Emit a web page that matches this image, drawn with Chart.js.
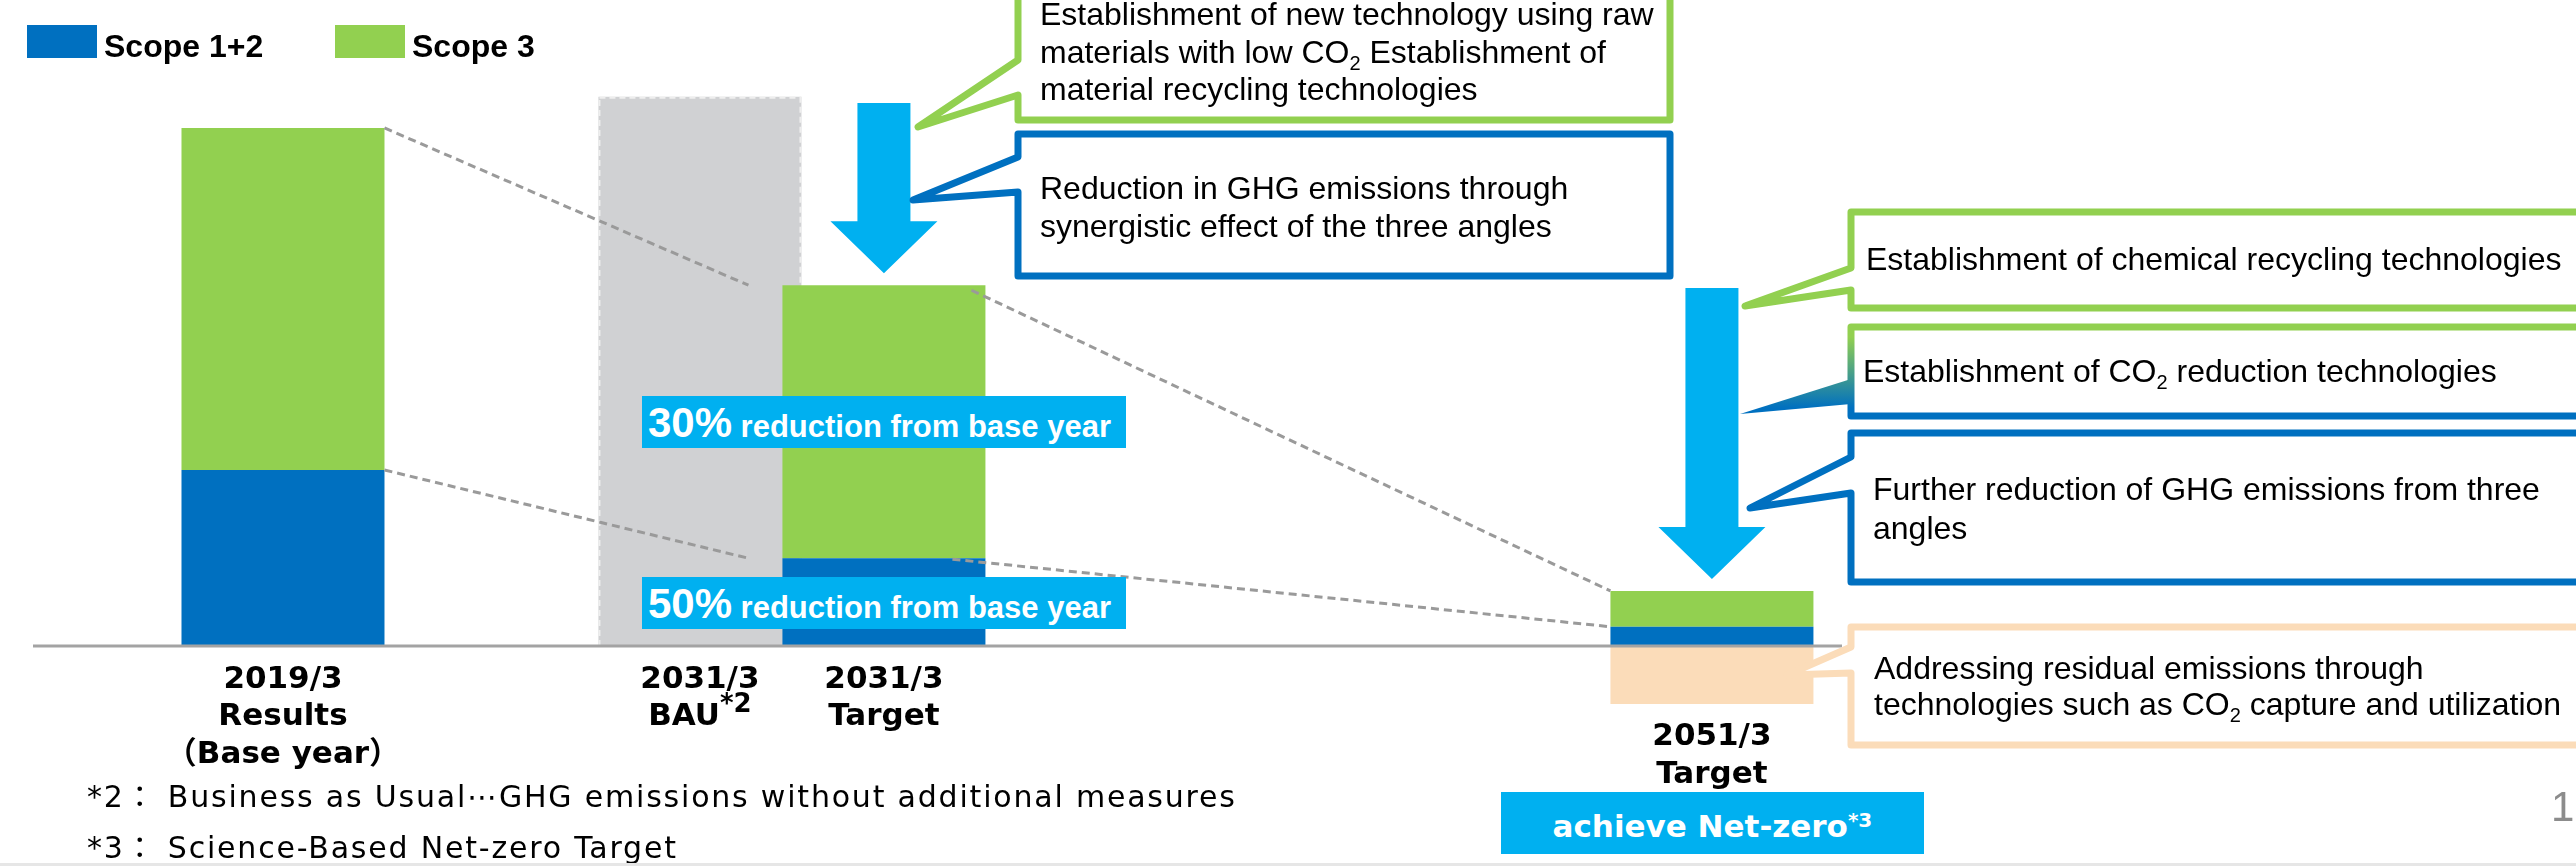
<!DOCTYPE html>
<html lang="en">
<head>
<meta charset="UTF-8">
<title>GHG emissions reduction roadmap</title>
<script src="https://cdn.jsdelivr.net/npm/chart.js"></script>
<style>
  body { margin: 0; background: #fff; }
  #wrap { position: relative; width: 2576px; height: 866px; overflow: hidden; background: #fff; }
  #chart { position: absolute; left: 0; top: 0; }
  .t { position: absolute; white-space: nowrap; color: #000; }
  .note { font-family: "Liberation Sans", Arial, sans-serif; font-size: 32px; line-height: 37.5px; }
  .note sub { font-size: 20px; line-height: 0; vertical-align: -7px; }
  .cat { font-family: "DejaVu Sans", "Noto Sans CJK JP", sans-serif; font-weight: bold; font-size: 31px;
         line-height: 37.5px; text-align: center; width: 340px; }
  .cat sup { font-size: 26px; line-height: 0; vertical-align: 13px; }
  .cjk { font-family: "Noto Sans CJK JP", sans-serif; }
  .foot { font-family: "DejaVu Sans", "Noto Sans CJK JP", sans-serif; font-size: 30px; line-height: 49px; letter-spacing: 1.8px; }
  .tag { position: absolute; background: #00B0F0; color: #fff; white-space: nowrap; box-sizing: border-box;
         font-family: "Liberation Sans", Arial, sans-serif; font-weight: bold; font-size: 31px; }
  .tag b { font-size: 42px; line-height: 0; }
  .legend-item { position: absolute; top: 25px; height: 33px; }
  .legend-item i { position: absolute; left: 0; top: 0; width: 70px; height: 33px; }
  .legend-item span { position: absolute; left: 77px; top: 3px; white-space: nowrap; line-height: 37px;
                      font-family: "Liberation Sans", Arial, sans-serif; font-weight: bold; font-size: 32px; }
</style>
</head>
<body>
<div id="wrap">
  <canvas id="chart" width="2576" height="866"></canvas>

  <div class="t note" style="left:1040px;top:-4px">Establishment of new technology using raw<br>materials with low CO<sub>2</sub> Establishment of<br>material recycling technologies</div>
  <div class="t note" style="left:1040px;top:170px">Reduction in GHG emissions through<br>synergistic effect of the three angles</div>
  <div class="t note" style="left:1866px;top:241px">Establishment of chemical recycling technologies</div>
  <div class="t note" style="left:1863px;top:353px">Establishment of CO<sub>2</sub> reduction technologies</div>
  <div class="t note" style="left:1873px;top:470px;line-height:39px">Further reduction of GHG emissions from three<br>angles</div>
  <div class="t note" style="left:1874px;top:650px;line-height:36px">Addressing residual emissions through<br>technologies such as CO<sub>2</sub> capture and utilization</div>

  <div class="t foot" style="left:87px;top:770px">*2<span class="cjk">：</span> Business as Usual⋯GHG emissions without additional measures<br>*3<span class="cjk">：</span> Science-Based Net-zero Target</div>

  <div class="t" style="left:2551px;top:786px;font-family:'Liberation Sans',Arial,sans-serif;font-size:42px;line-height:42px;color:#8c8c8c">1</div>
  <div style="position:absolute;left:0;top:863px;width:2576px;height:3px;background:#e6e6e6"></div>
</div>

<script>
  // categories on the x axis
  const categories = ['2019/3 Results (Base year)', '2031/3 BAU', '2031/3 Target', '2051/3 Target'];
  // tick label lines under each bar
  const tickLines = [['2019/3', 'Results', '（Base year）'], ['2031/3', 'BAU'], ['2031/3', 'Target'], ['2051/3', 'Target']];
  const tickNotes = [null, '*2', null, null];
  // where each category sits on the hidden linear x axis (in bar slots)
  const catPos = [1, 3.266, 4.266, 8.766];

  // GHG emissions index, base year total = 100
  const scope12 = [34.1, null, 17.1, 3.9];
  const scope3 = [65.9, null, 52.6, 6.9];
  const bau = [null, 106.0, null, null];
  const residual = [null, null, null, -11.0];

  const BLUE = '#0070C0', GREEN = '#92D050', GRAY = '#D0D1D3', PEACH = '#FBDCB9', CYAN = '#00B0F0';
  const BAR_W = 203;

  const points = vals => vals.map((v, i) => ({ x: catPos[i], y: v })).filter(p => p.y !== null);
  const total = i => (scope12[i] || 0) + (scope3[i] || 0);

  // speech-bubble boxes (decoration)
  const callouts = [
    { left: 1018, top: -40, right: 1670, bottom: 120, j1: 60, j2: 95, tip: [918, 127], color: GREEN },
    { left: 1018, top: 134, right: 1670, bottom: 276, j1: 157, j2: 192, tip: [913, 200], color: BLUE },
    { left: 1851, top: 212, right: 2650, bottom: 308, j1: 268, j2: 290, tip: [1745, 306], color: GREEN },
    { left: 1851, top: 327, right: 2650, bottom: 416, j1: 379, j2: 404, tip: [1740, 414], color: 'grad', solidTip: true },
    { left: 1851, top: 433, right: 2650, bottom: 582, j1: 457, j2: 493, tip: [1750, 508], color: BLUE },
    { left: 1851, top: 627, right: 2650, bottom: 745, j1: 647, j2: 673, tip: [1787, 675], color: PEACH }
  ];
  const arrows = [{ cat: 2, top: 103 }, { cat: 3, top: 288 }];

  const overlay = {
    id: 'overlay',
    afterDatasetDraw(chart, args) {
      // dashed outline on the BAU bar
      if (args.index !== 3) return;
      const el = args.meta.data[0];
      const ctx = chart.ctx;
      ctx.save();
      ctx.setLineDash([6, 4]);
      ctx.strokeStyle = '#eeeeee';
      ctx.lineWidth = 2;
      ctx.strokeRect(el.x - el.width / 2 + 1, el.y + 1, el.width - 2, el.base - el.y - 2);
      ctx.restore();
    },
    afterDatasetsDraw(chart) {
      const ctx = chart.ctx;
      const xs = chart.scales.x, ys = chart.scales.y;
      const px = i => xs.getPixelForValue(catPos[i]);
      const py = v => ys.getPixelForValue(v);
      const h = BAR_W / 2;
      ctx.save();

      // base line
      ctx.strokeStyle = '#a3a3a3';
      ctx.lineWidth = 3;
      ctx.beginPath();
      ctx.moveTo(33, py(0) - 1);
      ctx.lineTo(1842, py(0) - 1);
      ctx.stroke();

      // dashed connectors between bars
      ctx.strokeStyle = '#9a9a9a';
      ctx.setLineDash([8, 5]);
      const seg = (x1, y1, x2, y2) => { ctx.beginPath(); ctx.moveTo(x1, y1); ctx.lineTo(x2, y2); ctx.stroke(); };
      seg(px(0) + h, py(total(0)), px(2) - h - 34, py(total(2)));
      seg(px(0) + h, py(scope12[0]), px(2) - h - 34, py(scope12[2]));
      seg(px(2) + h - 14, py(total(2)) + 5, px(3) - h, py(total(3)));
      seg(px(2) + h - 33, py(scope12[2]) + 1, px(3) - h, py(scope12[3]));
      ctx.setLineDash([]);

      // down arrows
      ctx.fillStyle = CYAN;
      arrows.forEach(a => {
        const cx = px(a.cat), tip = py(total(a.cat)) - 12, head = tip - 52;
        ctx.beginPath();
        ctx.moveTo(cx - 26.5, a.top);
        ctx.lineTo(cx + 26.5, a.top);
        ctx.lineTo(cx + 26.5, head);
        ctx.lineTo(cx + 53.5, head);
        ctx.lineTo(cx, tip);
        ctx.lineTo(cx - 53.5, head);
        ctx.lineTo(cx - 26.5, head);
        ctx.closePath();
        ctx.fill();
      });

      // callout boxes
      callouts.forEach(c => {
        let stroke = c.color;
        if (c.color === 'grad') {
          stroke = ctx.createLinearGradient(0, c.top + 10, 0, c.bottom - 8);
          stroke.addColorStop(0, GREEN);
          stroke.addColorStop(1, BLUE);
        }
        ctx.beginPath();
        ctx.moveTo(c.left, c.top);
        ctx.lineTo(c.right, c.top);
        ctx.lineTo(c.right, c.bottom);
        ctx.lineTo(c.left, c.bottom);
        if (!c.solidTip) {
          ctx.lineTo(c.left, c.j2);
          ctx.lineTo(c.tip[0], c.tip[1]);
          ctx.lineTo(c.left, c.j1);
        }
        ctx.closePath();
        ctx.fillStyle = '#fff';
        ctx.fill();
        ctx.lineWidth = 7;
        ctx.lineJoin = 'round';
        ctx.strokeStyle = stroke;
        ctx.stroke();
        if (c.solidTip) {
          ctx.beginPath();
          ctx.moveTo(c.left, c.j1);
          ctx.lineTo(c.tip[0], c.tip[1]);
          ctx.lineTo(c.left, c.j2);
          ctx.closePath();
          ctx.fillStyle = stroke;
          ctx.fill();
        }
      });
      ctx.restore();
    }
  };

  const chart = new Chart(document.getElementById('chart'), {
    type: 'bar',
    data: {
      datasets: [
        { label: 'Scope 1+2', data: points(scope12), backgroundColor: BLUE },
        { label: 'Scope 3', data: points(scope3), backgroundColor: GREEN },
        { label: 'Residual emissions', data: points(residual), backgroundColor: PEACH },
        { label: 'BAU', data: points(bau), backgroundColor: GRAY }
      ]
    },
    options: {
      responsive: false,
      animation: false,
      events: [],
      layout: { padding: 0 },
      datasets: { bar: { barThickness: BAR_W, borderWidth: 0, inflateAmount: 0 } },
      plugins: { legend: { display: false }, tooltip: { enabled: false } },
      scales: {
        x: { type: 'linear', min: -0.538, max: 13.462, offset: false, stacked: true, display: false },
        y: { min: -42.2, max: 124.66, stacked: true, display: false }
      }
    },
    plugins: [overlay]
  });

  // legend, tick labels and tags placed from the chart's own scales
  const wrap = document.getElementById('wrap');
  const xs = chart.scales.x, ys = chart.scales.y;
  const add = (cls, html, css) => {
    const d = document.createElement('div');
    d.className = cls;
    d.innerHTML = html;
    Object.assign(d.style, css);
    wrap.appendChild(d);
    return d;
  };

  [0, 1].forEach((k, n) => {
    const ds = chart.data.datasets[k];
    add('legend-item', `<i style="background:${ds.backgroundColor}"></i><span>${ds.label}</span>`, { left: [27, 335][n] + 'px' });
  });

  categories.forEach((c, i) => {
    const low = residual[i] !== null ? ys.getPixelForValue(residual[i]) : ys.getPixelForValue(0);
    const lines = tickLines[i].slice();
    if (tickNotes[i]) lines[lines.length - 1] += `<sup>${tickNotes[i]}</sup>`;
    add('t cat', lines.join('<br>'), {
      left: (xs.getPixelForValue(catPos[i]) - 170) + 'px',
      top: (low + 12) + 'px'
    });
  });

  // reduction tags on the 2031/3 target bar
  const tx = xs.getPixelForValue(catPos[2]);
  const tags = [
    { pct: '30%', mid: (total(2) + scope12[2]) / 2 },
    { pct: '50%', mid: scope12[2] / 2 }
  ];
  tags.forEach(t => {
    const cy = ys.getPixelForValue(t.mid);
    add('tag', `<b>${t.pct}</b> reduction from base year`, {
      left: (tx - 242) + 'px', top: (cy - 26) + 'px', width: '484px', height: '52px',
      lineHeight: '62px', paddingLeft: '6px'
    });
  });

  // net-zero tag under the 2051/3 bar
  const nx = xs.getPixelForValue(catPos[3]);
  add('tag', 'achieve Net-zero<sup style="font-size:20px;line-height:0;vertical-align:10px">*3</sup>', {
    left: (nx - 211) + 'px', top: (ys.getPixelForValue(residual[3]) + 88) + 'px', width: '423px', height: '62px',
    lineHeight: '68px', textAlign: 'center', fontFamily: '"DejaVu Sans", sans-serif', fontSize: '31px'
  });
</script>
</body>
</html>
